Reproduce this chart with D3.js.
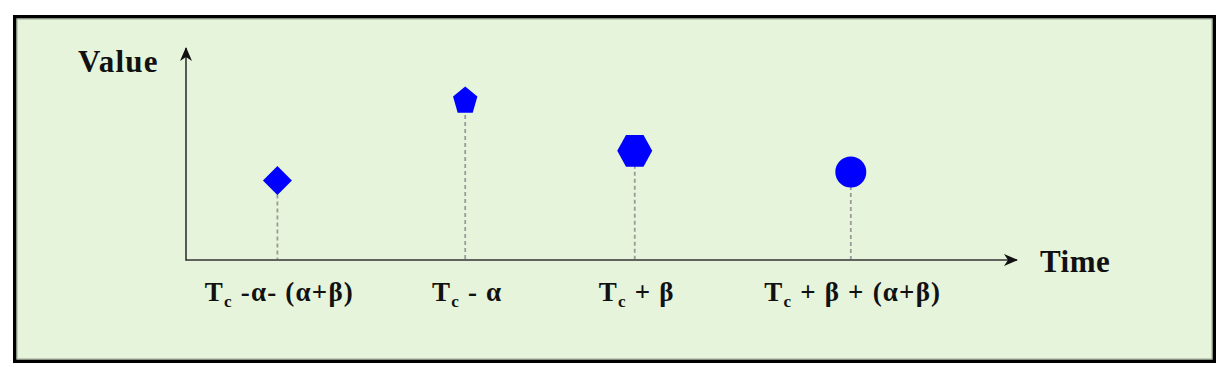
<!DOCTYPE html>
<html>
<head>
<meta charset="utf-8">
<script src="https://cdn.jsdelivr.net/npm/d3@7"></script>
<style>
  html, body { margin: 0; padding: 0; background: #ffffff; }
  svg { display: block; }
  text { font-family: "Liberation Serif", "Times New Roman", serif; font-weight: bold; fill: #111; }
</style>
</head>
<body>
<svg id="chart" width="1229" height="379"></svg>
<script>
// ---- data ----
const categories = ["Tc -α- (α+β)", "Tc - α", "Tc + β", "Tc + β + (α+β)"];
const tickMain = ["T", "T", "T", "T"];
const tickSub = ["c", "c", "c", "c"];
const tickRest = [" -α- (α+β)", " - α", " + β", " + β + (α+β)"];
const timePos = [11.0, 33.6, 54.0, 80.0];
const values = [37.5, 75.0, 51.5, 41.5];
const shapes = ["diamond", "pentagon", "hexagon", "circle"];
const axisLabels = { x: "Time", y: "Value" };

// ---- layout ----
const svg = d3.select("#chart");
const origin = { x: 186, y: 260 };
const x = d3.scaleLinear().domain([0, 100]).range([origin.x, 1017]);
const y = d3.scaleLinear().domain([0, 100]).range([origin.y, 48]);

// frame
svg.append("rect")
  .attr("x", 14.75).attr("y", 16.75)
  .attr("width", 1199.5).attr("height", 344.5)
  .attr("fill", "#e6f4db")
  .attr("stroke", "#000").attr("stroke-width", 3.5);
svg.append("rect")
  .attr("x", 17).attr("y", 19)
  .attr("width", 1195).attr("height", 340)
  .attr("fill", "none")
  .attr("stroke", "#9aa394").attr("stroke-width", 1);

// arrow markers
const defs = svg.append("defs");
defs.append("marker")
  .attr("id", "arrow")
  .attr("viewBox", "0 0 14 12")
  .attr("refX", 13).attr("refY", 6)
  .attr("markerWidth", 14).attr("markerHeight", 12)
  .attr("markerUnits", "userSpaceOnUse")
  .attr("orient", "auto")
  .append("path")
  .attr("d", "M0,0 L14,6 L0,12 L4,6 Z")
  .attr("fill", "#111");

const axisColor = "#333";
// x axis
svg.append("line")
  .attr("x1", x(0)).attr("y1", y(0))
  .attr("x2", x(100)).attr("y2", y(0))
  .attr("stroke", axisColor).attr("stroke-width", 1.6)
  .attr("marker-end", "url(#arrow)");
// y axis
svg.append("line")
  .attr("x1", x(0)).attr("y1", y(0) + 0.8)
  .attr("x2", x(0)).attr("y2", y(100))
  .attr("stroke", axisColor).attr("stroke-width", 1.6)
  .attr("marker-end", "url(#arrow)");

// axis titles
svg.append("text").attr("x", 78).attr("y", 72)
  .attr("font-size", 31).attr("letter-spacing", 1.2).text(axisLabels.y);
svg.append("text").attr("x", 1040).attr("y", 272)
  .attr("font-size", 31).attr("letter-spacing", 0.5).text(axisLabels.x);

// custom symbol types
function polygon(n, rx, ry, rot) {
  return {
    draw(ctx) {
      for (let i = 0; i < n; i++) {
        const a = rot + i * 2 * Math.PI / n;
        const px = rx * Math.cos(a), py = ry * Math.sin(a);
        if (i === 0) ctx.moveTo(px, py); else ctx.lineTo(px, py);
      }
      ctx.closePath();
    }
  };
}
const symbolTypes = {
  diamond: polygon(4, 14.5, 14.5, 0),
  pentagon: polygon(5, 12.8, 14.4, -Math.PI / 2),
  hexagon: polygon(6, 17.5, 18.3, 0),
  circle: { draw(ctx) { ctx.moveTo(15.5, 0); ctx.arc(0, 0, 15.5, 0, 2 * Math.PI); ctx.closePath(); } }
};

const pts = categories.map((c, i) => ({ c, t: timePos[i], v: values[i], s: shapes[i], i }));

// dashed drop lines
svg.selectAll(".drop").data(pts).enter().append("line")
  .attr("class", "drop")
  .attr("x1", d => x(d.t)).attr("x2", d => x(d.t))
  .attr("y1", d => y(d.v)).attr("y2", y(0) - 1)
  .attr("stroke", "#9a9a9a").attr("stroke-width", 1.8)
  .attr("stroke-dasharray", "4,3");

// markers
svg.selectAll(".pt").data(pts).enter().append("path")
  .attr("class", "pt")
  .attr("transform", d => `translate(${x(d.t)},${y(d.v)})`)
  .attr("d", d => d3.symbol().type(symbolTypes[d.s])())
  .attr("fill", "#0000ff");

// tick labels
const lab = svg.selectAll(".tick-label").data(pts).enter().append("text")
  .attr("class", "tick-label")
  .attr("x", d => x(d.t) + 2).attr("y", 301)
  .attr("text-anchor", "middle")
  .attr("font-size", 27)
  .attr("letter-spacing", 1.2);
lab.append("tspan").text(d => tickMain[d.i]);
lab.append("tspan").attr("font-size", 17).attr("dy", 6).text(d => tickSub[d.i]);
lab.append("tspan").attr("dy", -6).text(d => tickRest[d.i].replace(/ /g, "\u00a0"));
</script>
</body>
</html>
